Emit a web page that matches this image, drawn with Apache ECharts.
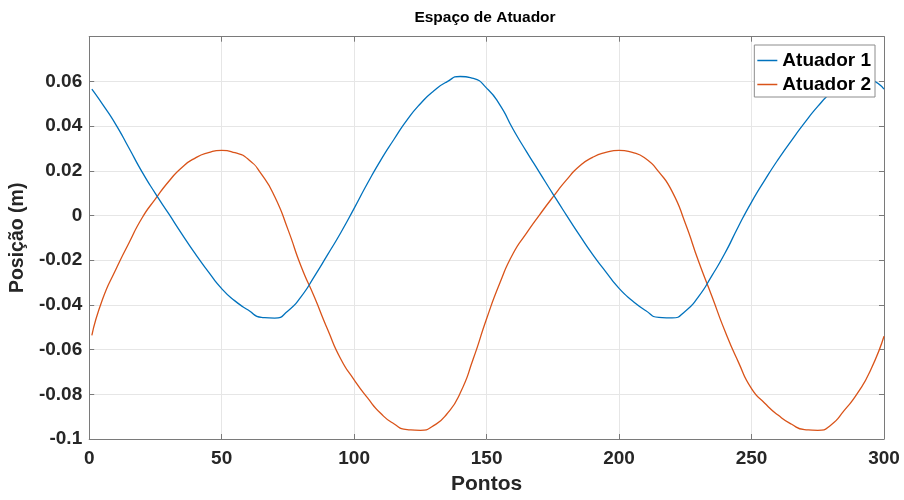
<!DOCTYPE html>
<html>
<head>
<meta charset="utf-8">
<script src="https://cdn.jsdelivr.net/npm/echarts@6/dist/echarts.min.js"></script>
<style>
html,body{margin:0;padding:0;background:#fff;}
#chart{width:904px;height:500px;}
</style>
</head>
<body>
<div id="chart"></div>
<script>
const pontos = [1,5,10,15,20,25,30,35,40,45,50,55,60,65,70,75,80,85,90,95,100,105,110,115,120,125,130,135,140,145,150,155,160,165,170,175,180,185,190,195,200,205,210,215,220,225,230,235,240,245,250,255,260,265,270,275,280,285,290,295,300];
const atuador1 = [0.0565,0.0498,0.0408,0.0302,0.0194,0.0098,0.0008,-0.0083,-0.0171,-0.0252,-0.0327,-0.0382,-0.0423,-0.0456,-0.0459,-0.0427,-0.0363,-0.0272,-0.0175,-0.0076,0.0032,0.0143,0.0247,0.0340,0.0428,0.0500,0.0557,0.0598,0.0622,0.0613,0.0570,0.0495,0.0386,0.0287,0.0192,0.0097,0.0004,-0.0087,-0.0174,-0.0252,-0.0326,-0.0381,-0.0425,-0.0456,-0.0458,-0.0428,-0.0363,-0.0270,-0.0168,-0.0050,0.0060,0.0158,0.0250,0.0334,0.0414,0.0488,0.0550,0.0596,0.0620,0.0608,0.0565];
const atuador2 = [-0.0536,-0.0376,-0.0243,-0.0123,-0.0010,0.0074,0.0152,0.0215,0.0257,0.0281,0.0291,0.0281,0.0252,0.0185,0.0085,-0.0062,-0.0228,-0.0365,-0.0510,-0.0643,-0.0735,-0.0815,-0.0885,-0.0932,-0.0958,-0.0961,-0.0940,-0.0888,-0.0795,-0.0640,-0.0462,-0.0302,-0.0170,-0.0080,0.0003,0.0082,0.0157,0.0220,0.0260,0.0282,0.0291,0.0282,0.0255,0.0195,0.0108,-0.0035,-0.0205,-0.0360,-0.0518,-0.0655,-0.0775,-0.0840,-0.0893,-0.0933,-0.0958,-0.0961,-0.0937,-0.0872,-0.0795,-0.0690,-0.0540];
const seriesNames = ['Atuador 1','Atuador 2'];
const titleText = 'Espaço de Atuador';
const xName = 'Pontos';
const yName = 'Posição (m)';

const FONT = '"Liberation Sans", Arial, Helvetica, sans-serif';
const AX = '#7a7a7a';
const chart = echarts.init(document.getElementById('chart'), null, {renderer:'canvas'});

const fmtY = v => Math.abs(v - 0.08) < 1e-9 ? '' : String(+v.toFixed(2));

const baseX = {type:'value', min:0, max:300, interval:50};
const baseY = {type:'value', min:-0.1, max:0.08, interval:0.02};

chart.setOption({
  animation:false,
  backgroundColor:'#fff',
  title:{text:titleText, left:485, textAlign:'center', top:10, padding:0,
    textStyle:{fontFamily:FONT, fontSize:15.5, fontWeight:'bold', color:'#000'}},
  legend:{
    data:seriesNames, orient:'vertical', right:29, top:45,
    padding:[6,4,3,3], itemGap:5, itemWidth:20, itemHeight:1.5, icon:'rect',
    backgroundColor:'#fff', borderColor:'#8c8c8c', borderWidth:1,
    textStyle:{fontFamily:FONT, fontSize:19, fontWeight:'bold', color:'#000'}
  },
  grid:{left:86.7, right:20, top:36.7, bottom:57.7, containLabel:false},
  xAxis:[
    Object.assign({}, baseX, {
      position:'bottom', name:xName, nameLocation:'middle', nameGap:35,
      nameTextStyle:{fontFamily:FONT, fontSize:21, fontWeight:'bold', color:'#262626'},
      axisLine:{show:true, onZero:false, lineStyle:{color:AX, width:1}},
      axisTick:{show:true, inside:true, length:5, lineStyle:{color:AX}},
      axisLabel:{margin:10, fontFamily:FONT, fontSize:19, fontWeight:'bold', color:'#262626'},
      splitLine:{show:true, lineStyle:{color:'#e6e6e6', width:1}}
    }),
    Object.assign({}, baseX, {
      position:'top',
      axisLine:{show:true, onZero:false, lineStyle:{color:AX, width:1}},
      axisTick:{show:true, inside:true, length:5, lineStyle:{color:AX}},
      axisLabel:{show:false}, splitLine:{show:false}
    })
  ],
  yAxis:[
    Object.assign({}, baseY, {
      position:'left', name:yName, nameLocation:'middle', nameGap:47, nameRotate:90,
      nameTextStyle:{fontFamily:FONT, fontSize:19.5, fontWeight:'bold', color:'#262626'},
      axisLine:{show:true, onZero:false, lineStyle:{color:AX, width:1}},
      axisTick:{show:true, inside:true, length:5, lineStyle:{color:AX}},
      axisLabel:{margin:7, formatter:fmtY, fontFamily:FONT, fontSize:19, fontWeight:'bold', color:'#262626'},
      splitLine:{show:true, lineStyle:{color:'#e6e6e6', width:1}}
    }),
    Object.assign({}, baseY, {
      position:'right',
      axisLine:{show:true, onZero:false, lineStyle:{color:AX, width:1}},
      axisTick:{show:true, inside:true, length:5, lineStyle:{color:AX}},
      axisLabel:{show:false}, splitLine:{show:false}
    })
  ],
  series:[
    {name:seriesNames[0], type:'line', xAxisIndex:0, yAxisIndex:0,
     data:pontos.map((x,i)=>[x, atuador1[i]]), showSymbol:false, symbol:'none', smooth:0.6,
     color:'#0072BD', lineStyle:{color:'#0072BD', width:1.3}, z:3},
    {name:seriesNames[1], type:'line', xAxisIndex:0, yAxisIndex:0,
     data:pontos.map((x,i)=>[x, atuador2[i]]), showSymbol:false, symbol:'none', smooth:0.6,
     color:'#D95319', lineStyle:{color:'#D95319', width:1.3}, z:2}
  ]
});
</script>
</body>
</html>
